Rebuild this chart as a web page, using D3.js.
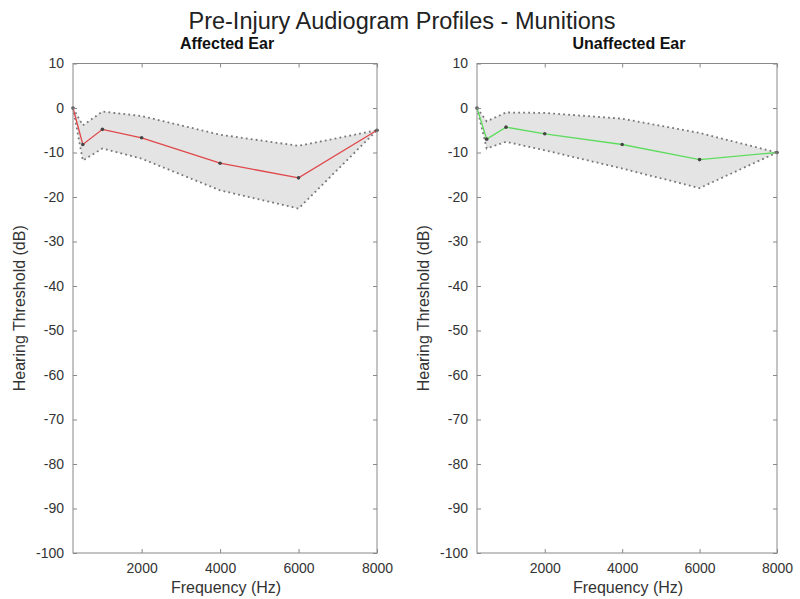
<!DOCTYPE html>
<html>
<head>
<meta charset="utf-8">
<style>
  body { margin: 0; background: #fff; }
  svg text { font-family: "Liberation Sans", Arial, sans-serif; }
</style>
</head>
<body>
<svg id="chart" width="800" height="599"></svg>
<script src="https://d3js.org/d3.v7.min.js"></script>
<script>
  // frequencies (Hz) and thresholds (dB)
  const freqs = [250, 500, 1000, 2000, 4000, 6000, 8000];
  const xTicks = [2000, 4000, 6000, 8000];
  const yTicks = [10, 0, -10, -20, -30, -40, -50, -60, -70, -80, -90, -100];

  const affectedMean  = [0, -8.2, -4.8, -6.7, -12.4, -15.7, -5];
  const affectedUpper = [0, -3.9, -0.8, -1.8, -6.0, -8.5, -5];
  const affectedLower = [0, -11.8, -9.1, -11.4, -18.5, -22.6, -5];

  const unaffectedMean  = [0, -7.0, -4.3, -5.8, -8.2, -11.6, -10];
  const unaffectedUpper = [0, -3.0, -1.0, -1.1, -2.4, -5.6, -10];
  const unaffectedLower = [0, -9.1, -7.6, -9.5, -13.6, -18.0, -10];

  const svg = d3.select('#chart');

  svg.append('text')
      .attr('x', 402).attr('y', 29)
      .attr('text-anchor', 'middle')
      .attr('font-size', 23.5)
      .attr('fill', '#222')
      .text('Pre-Injury Audiogram Profiles - Munitions');

  function panel(left, right, title, mean, upper, lower, color) {
      const top = 63.5, bottom = 553;
      const x = d3.scaleLinear().domain([250, 8000]).range([left, right]);
      const y = d3.scaleLinear().domain([-100, 10]).range([bottom, top]);
      const g = svg.append('g');

      const rows = freqs.map((f, i) => ({ f, m: mean[i], u: upper[i], l: lower[i] }));

      // shaded range
      g.append('path')
          .datum(rows)
          .attr('fill', '#e4e4e4')
          .attr('d', d3.area().x(d => x(d.f)).y0(d => y(d.l)).y1(d => y(d.u)));

      // dotted bounds
      ['u', 'l'].forEach(k => {
          g.append('path')
              .datum(rows)
              .attr('fill', 'none')
              .attr('stroke', '#777')
              .attr('stroke-width', 1.8)
              .attr('stroke-dasharray', '1.8,3.2')
              .attr('d', d3.line().x(d => x(d.f)).y(d => y(d[k])));
      });

      // mean line
      g.append('path')
          .datum(rows)
          .attr('fill', 'none')
          .attr('stroke', color)
          .attr('stroke-width', 1.3)
          .attr('d', d3.line().x(d => x(d.f)).y(d => y(d.m)));

      g.selectAll('circle.pt')
          .data(rows)
          .enter().append('circle')
          .attr('class', 'pt')
          .attr('cx', d => x(d.f))
          .attr('cy', d => y(d.m))
          .attr('r', 1.8)
          .attr('fill', '#444');

      // axes box, ticks inward (matlab style)
      const axisColor = '#888';
      g.append('rect')
          .attr('x', left).attr('y', top)
          .attr('width', right - left).attr('height', bottom - top)
          .attr('fill', 'none').attr('stroke', axisColor).attr('stroke-width', 1);

      const xa = g.append('g').attr('transform', `translate(0,${bottom})`)
          .call(d3.axisBottom(x).tickValues(xTicks).tickSize(-4).tickPadding(10).tickFormat(d => String(d)));
      const xt = g.append('g').attr('transform', `translate(0,${top})`)
          .call(d3.axisTop(x).tickValues(xTicks).tickSize(-4).tickFormat(''));
      const ya = g.append('g').attr('transform', `translate(${left},0)`)
          .call(d3.axisLeft(y).tickValues(yTicks).tickSize(-4).tickPadding(9).tickFormat(d => String(d)));
      const yr = g.append('g').attr('transform', `translate(${right},0)`)
          .call(d3.axisRight(y).tickValues(yTicks).tickSize(-4).tickFormat(''));

      [xa, xt, ya, yr].forEach(a => {
          a.select('.domain').remove();
          a.selectAll('line').attr('stroke', axisColor);
          a.selectAll('text').attr('font-size', 14).attr('fill', '#333')
              .attr('font-family', '"Liberation Sans", Arial, sans-serif');
      });

      g.append('text')
          .attr('x', (left + right) / 2 + 2).attr('y', 48.5)
          .attr('text-anchor', 'middle')
          .attr('font-size', 16).attr('font-weight', 'bold').attr('fill', '#111')
          .text(title);

      g.append('text')
          .attr('x', (left + right) / 2 + 1).attr('y', 593)
          .attr('text-anchor', 'middle')
          .attr('font-size', 16).attr('fill', '#333')
          .text('Frequency (Hz)');

      g.append('text')
          .attr('transform', `translate(${left - 48},${(top + bottom) / 2}) rotate(-90)`)
          .attr('text-anchor', 'middle')
          .attr('font-size', 16).attr('fill', '#333')
          .text('Hearing Threshold (dB)');
  }

  panel(73, 377, 'Affected Ear', affectedMean, affectedUpper, affectedLower, '#e0474a');
  panel(477, 777, 'Unaffected Ear', unaffectedMean, unaffectedUpper, unaffectedLower, '#5fdc5f');
</script>
</body>
</html>
